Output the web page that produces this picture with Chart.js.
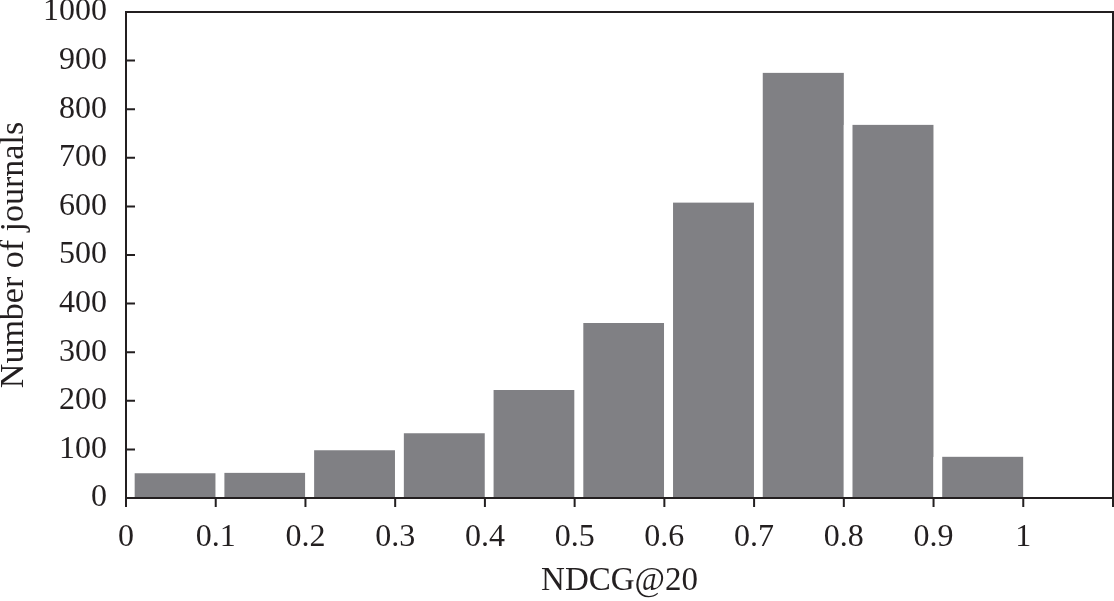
<!DOCTYPE html>
<html>
<head>
<meta charset="utf-8">
<script src="https://cdn.jsdelivr.net/npm/chart.js@4.4.1/dist/chart.umd.min.js"></script>
<style>
  html, body { margin: 0; padding: 0; background: #fff; }
  #wrap { width: 1114px; height: 601px; position: relative; }
</style>
</head>
<body>
<div id="wrap"><canvas id="hist"></canvas></div>
<script>
// Histogram of NDCG@20 per journal, bins of width 0.1
const binEdges = [0, 0.1, 0.2, 0.3, 0.4, 0.5, 0.6, 0.7, 0.8, 0.9, 1.0];
const journalCounts = [51, 52, 98, 133, 222, 360, 608, 875, 768, 85];
const xTickLabels = ['0', '0.1', '0.2', '0.3', '0.4', '0.5', '0.6', '0.7', '0.8', '0.9', '1', ''];
const yTickLabels = ['0', '100', '200', '300', '400', '500', '600', '700', '800', '900', '1000'];

const INK = '#231f20';
const BAR_COLOR = '#808084';
const FONT = "'Liberation Serif', 'Times New Roman', serif";

// one bar per bin, centred in the bin
const points = journalCounts.map((v, i) => ({ x: (binEdges[i] + binEdges[i + 1]) / 2, y: v }));

// frame round the plot area + tick marks (x ticks point down, y ticks point in)
const framePlugin = {
  id: 'frame',
  afterDraw(chart) {
    const { ctx, chartArea: a, scales } = chart;
    ctx.save();
    ctx.strokeStyle = INK;
    ctx.lineWidth = 2;
    ctx.strokeRect(a.left, a.top, a.right - a.left, a.bottom - a.top);
    ctx.beginPath();
    scales.x.ticks.forEach(t => {
      const px = scales.x.getPixelForValue(t.value);
      ctx.moveTo(px, a.bottom);
      ctx.lineTo(px, a.bottom + 9);
    });
    scales.y.ticks.forEach(t => {
      const py = scales.y.getPixelForValue(t.value);
      ctx.moveTo(a.left, py);
      ctx.lineTo(a.left + 9, py);
    });
    ctx.stroke();
    ctx.restore();
  }
};

new Chart(document.getElementById('hist'), {
  type: 'bar',
  data: {
    datasets: [{
      label: 'Number of journals',
      data: points,
      backgroundColor: BAR_COLOR,
      // white strip on the left makes the gap between bars
      borderColor: '#ffffff',
      borderWidth: { left: 9, right: 0, top: 0, bottom: 0 },
      borderSkipped: false,
      barPercentage: 1,
      categoryPercentage: 1
    }]
  },
  options: {
    responsive: true,
    maintainAspectRatio: false,
    animation: false,
    layout: { autoPadding: false, padding: { top: 12, right: 1, bottom: 0, left: -3 } },
    plugins: { legend: { display: false }, tooltip: { enabled: false } },
    scales: {
      x: {
        type: 'linear',
        min: 0,
        max: 1.1,
        offset: false,
        grid: { display: false, drawTicks: false },
        border: { display: false },
        // fit() counts the tick padding twice when ticks aren't drawn; also drop edge label padding
        afterFit: s => { s.height -= s.options.ticks.padding; s.paddingLeft = 0; s.paddingRight = 0; },
        ticks: {
          stepSize: 0.1,
          padding: 20,
          color: INK,
          font: { family: FONT, size: 32 },
          maxRotation: 0,
          autoSkip: false,
          callback: (v, i) => xTickLabels[i]
        },
        title: {
          display: true,
          text: 'NDCG@20',
          color: INK,
          font: { family: FONT, size: 33 },
          padding: { top: 5, bottom: 0 }
        }
      },
      y: {
        min: 0,
        max: 1000,
        grid: { display: false, drawTicks: false },
        border: { display: false },
        afterFit: s => { s.width -= s.options.ticks.padding; s.paddingTop = 0; s.paddingBottom = 0; },
        ticks: {
          stepSize: 100,
          padding: 19,
          color: INK,
          font: { family: FONT, size: 32 },
          callback: (v, i) => yTickLabels[i]
        },
        title: {
          display: true,
          text: 'Number of journals',
          color: INK,
          font: { family: FONT, size: 34, lineHeight: 1 },
          padding: { top: 0, bottom: 12 }
        }
      }
    }
  },
  plugins: [framePlugin]
});
</script>
</body>
</html>
